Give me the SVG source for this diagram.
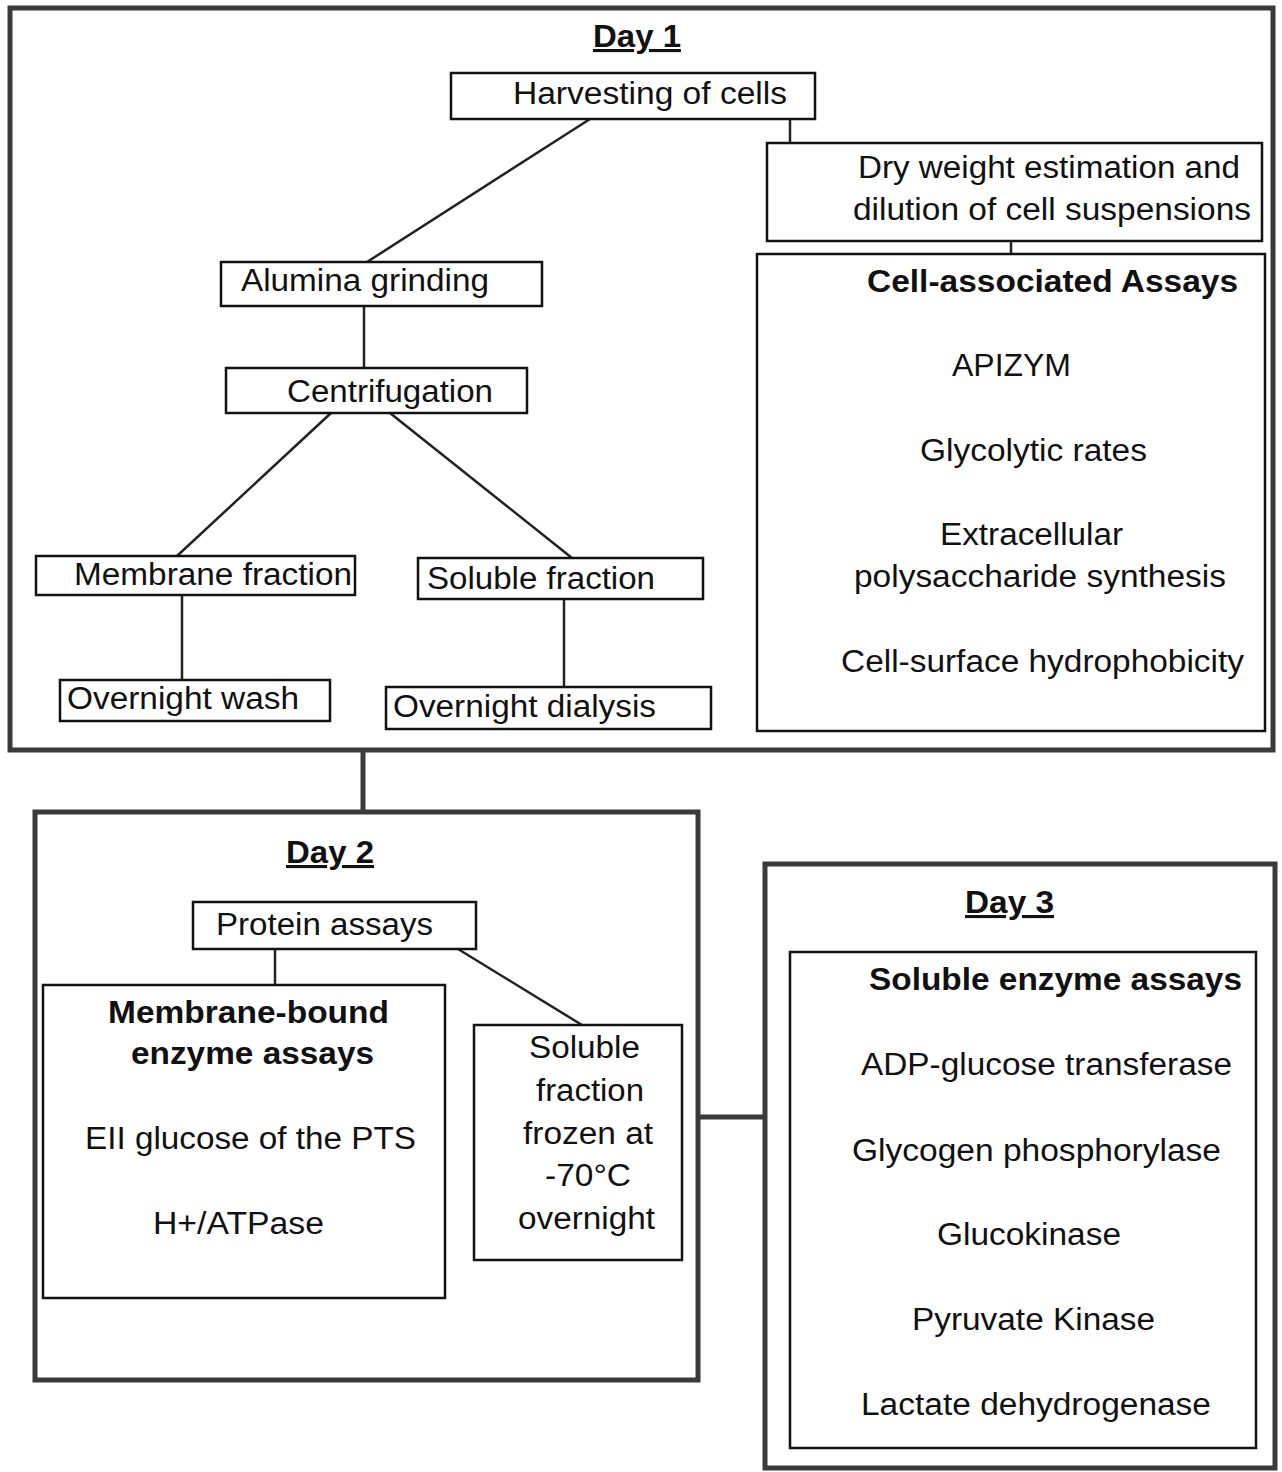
<svg xmlns="http://www.w3.org/2000/svg" width="1282" height="1472" viewBox="0 0 1282 1472">
<style>
text{font-family:"Liberation Sans",Arial,sans-serif;font-size:31px;fill:#111}
.b{font-weight:bold}
.u{font-weight:bold;text-decoration:underline}
.day{fill:none;stroke:#3a3a3a;stroke-width:5}
.box{fill:#fff;stroke:#111;stroke-width:2.5}
.c line{stroke:#222;stroke-width:2.5}
.c line.t{stroke:#3a3a3a;stroke-width:5}
</style>
<rect width="1282" height="1472" fill="#fff"/>
<g id="day1"><rect class="day" x="10" y="8" width="1263" height="742"/>
<text class="u" x="593" y="47" textLength="88" lengthAdjust="spacingAndGlyphs">Day 1</text></g>
<g id="day2"><rect class="day" x="35" y="812" width="663" height="568"/>
<text class="u" x="286" y="863" textLength="88" lengthAdjust="spacingAndGlyphs">Day 2</text></g>
<g id="day3"><rect class="day" x="765" y="864" width="510" height="604"/>
<text class="u" x="965" y="913" textLength="89" lengthAdjust="spacingAndGlyphs">Day 3</text></g>
<g class="c" id="connectors">
<line x1="590" y1="119" x2="367" y2="262"/>
<line x1="790" y1="119" x2="790" y2="143"/>
<line x1="1011" y1="241" x2="1011" y2="254"/>
<line x1="364" y1="306" x2="364" y2="368"/>
<line x1="331" y1="413" x2="177" y2="556"/>
<line x1="390" y1="413" x2="572" y2="558"/>
<line x1="182" y1="595" x2="182" y2="680"/>
<line x1="564" y1="599" x2="564" y2="687"/>
<line class="t" x1="363" y1="750" x2="363" y2="812"/>
<line x1="275" y1="949" x2="275" y2="985"/>
<line x1="458" y1="949" x2="582" y2="1025"/>
<line class="t" x1="698" y1="1117" x2="765" y2="1117"/>
</g>
<g id="harvest"><rect class="box" x="451" y="73" width="364" height="46"/>
<text x="513" y="104" textLength="274" lengthAdjust="spacingAndGlyphs">Harvesting of cells</text></g>
<g id="dryweight"><rect class="box" x="767" y="143" width="495" height="98"/>
<text x="858" y="178" textLength="382" lengthAdjust="spacingAndGlyphs">Dry weight estimation and</text>
<text x="853" y="220" textLength="398" lengthAdjust="spacingAndGlyphs">dilution of cell suspensions</text></g>
<g id="cellassoc"><rect class="box" x="757" y="254" width="508" height="477"/>
<text class="b" x="867" y="292" textLength="371" lengthAdjust="spacingAndGlyphs">Cell-associated Assays</text>
<text x="952" y="376" textLength="119" lengthAdjust="spacingAndGlyphs">APIZYM</text>
<text x="920" y="461" textLength="227" lengthAdjust="spacingAndGlyphs">Glycolytic rates</text>
<text x="940" y="545" textLength="183" lengthAdjust="spacingAndGlyphs">Extracellular</text>
<text x="854" y="587" textLength="372" lengthAdjust="spacingAndGlyphs">polysaccharide synthesis</text>
<text x="841" y="672" textLength="403" lengthAdjust="spacingAndGlyphs">Cell-surface hydrophobicity</text></g>
<g id="alumina"><rect class="box" x="221" y="262" width="321" height="44"/>
<text x="241" y="291" textLength="248" lengthAdjust="spacingAndGlyphs">Alumina grinding</text></g>
<g id="centrifugation"><rect class="box" x="226" y="368" width="301" height="45"/>
<text x="287" y="402" textLength="206" lengthAdjust="spacingAndGlyphs">Centrifugation</text></g>
<g id="membrane"><rect class="box" x="36" y="556" width="319" height="39"/>
<text x="74" y="585" textLength="278" lengthAdjust="spacingAndGlyphs">Membrane fraction</text></g>
<g id="soluble"><rect class="box" x="418" y="558" width="285" height="41"/>
<text x="427" y="589" textLength="228" lengthAdjust="spacingAndGlyphs">Soluble fraction</text></g>
<g id="wash"><rect class="box" x="60" y="680" width="270" height="41"/>
<text x="67" y="709" textLength="232" lengthAdjust="spacingAndGlyphs">Overnight wash</text></g>
<g id="dialysis"><rect class="box" x="386" y="687" width="325" height="42"/>
<text x="393" y="717" textLength="263" lengthAdjust="spacingAndGlyphs">Overnight dialysis</text></g>
<g id="protein"><rect class="box" x="193" y="902" width="283" height="47"/>
<text x="216" y="935" textLength="217" lengthAdjust="spacingAndGlyphs">Protein assays</text></g>
<g id="membound"><rect class="box" x="43" y="985" width="402" height="313"/>
<text class="b" x="108" y="1023" textLength="281" lengthAdjust="spacingAndGlyphs">Membrane-bound</text>
<text class="b" x="131" y="1064" textLength="243" lengthAdjust="spacingAndGlyphs">enzyme assays</text>
<text x="85" y="1149" textLength="331" lengthAdjust="spacingAndGlyphs">EII glucose of the PTS</text>
<text x="153" y="1234" textLength="171" lengthAdjust="spacingAndGlyphs">H+/ATPase</text></g>
<g id="frozen"><rect class="box" x="474" y="1025" width="208" height="235"/>
<text x="529" y="1058" textLength="111" lengthAdjust="spacingAndGlyphs">Soluble</text>
<text x="536" y="1101" textLength="108" lengthAdjust="spacingAndGlyphs">fraction</text>
<text x="523" y="1144" textLength="130" lengthAdjust="spacingAndGlyphs">frozen at</text>
<text x="545" y="1186" textLength="86" lengthAdjust="spacingAndGlyphs">-70°C</text>
<text x="518" y="1229" textLength="137" lengthAdjust="spacingAndGlyphs">overnight</text></g>
<g id="solenz"><rect class="box" x="790" y="952" width="466" height="496"/>
<text class="b" x="869" y="990" textLength="373" lengthAdjust="spacingAndGlyphs">Soluble enzyme assays</text>
<text x="861" y="1075" textLength="371" lengthAdjust="spacingAndGlyphs">ADP-glucose transferase</text>
<text x="852" y="1161" textLength="369" lengthAdjust="spacingAndGlyphs">Glycogen phosphorylase</text>
<text x="937" y="1245" textLength="184" lengthAdjust="spacingAndGlyphs">Glucokinase</text>
<text x="912" y="1330" textLength="243" lengthAdjust="spacingAndGlyphs">Pyruvate Kinase</text>
<text x="861" y="1415" textLength="350" lengthAdjust="spacingAndGlyphs">Lactate dehydrogenase</text></g>
</svg>
